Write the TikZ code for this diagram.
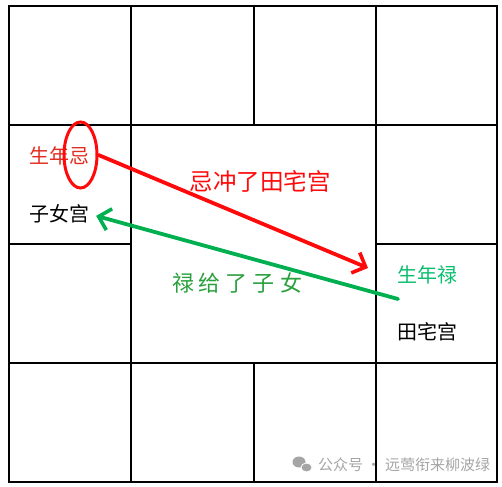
\documentclass[tikz,border=0pt]{standalone}
\usepackage{fontspec}
\newfontfamily\cjk{Noto Sans CJK SC}
\usetikzlibrary{arrows.meta,shapes.geometric}
\definecolor{jired}{RGB}{255,10,10}
\definecolor{jitext}{RGB}{225,45,30}
\definecolor{lugreen}{RGB}{0,176,80}
\definecolor{lutext}{RGB}{40,160,60}
\definecolor{lutexttwo}{RGB}{10,190,110}
\definecolor{wmgray}{RGB}{165,165,165}
\tikzset{
  gridline/.style={line width=1.3pt,black},
  lbl/.style={font=\cjk\fontsize{20}{20}\selectfont, inner sep=0pt, anchor=west},
  bigl/.style={font=\cjk\fontsize{23.5}{24}\selectfont, inner sep=0pt},
  arr/.style={line width=3.8pt, line cap=round, -{Straight Barb[length=11pt,width=22pt,line width=3.6pt]}},
}
\begin{document}
\begin{tikzpicture}[x=1pt,y=-1pt]
\useasboundingbox (0,0) rectangle (502,486);
% grid
\draw[gridline] (9,6) rectangle (497,482);
\draw[gridline] (9,125) -- (497,125);
\draw[gridline] (9,363) -- (497,363);
\draw[gridline] (131,6) -- (131,482);
\draw[gridline] (376,6) -- (376,482);
\draw[gridline] (254,6) -- (254,125);
\draw[gridline] (254,363) -- (254,482);
\draw[gridline] (9,244) -- (131,244);
\draw[gridline] (376,244) -- (497,244);
% texts
\node[lbl, text=jitext] (sn) at (29,156) {生年忌};
\node[lbl] (zn) at (29,214) {子女宫};
\node[lbl, text=lutexttwo] (sl) at (397,275) {生年禄};
\node[lbl] (tz) at (397,332) {田宅宫};
\node[bigl, text=jired] (jc) at (260,181) {忌冲了田宅宫};
\node[bigl, text=lutext, font=\cjk\fontsize{22}{22}\selectfont] (lg) at (237,283) {禄\hspace{5pt}给\hspace{5pt}了\hspace{5pt}子\hspace{5pt}女};
% ellipse around 忌
\node[draw=jired, line width=3pt, ellipse, minimum width=33pt, minimum height=66pt, inner sep=0pt] (je) at (80.5,155) {};
% arrows
\coordinate (redend) at (368,268);
\coordinate (greenstart) at (398,299);
\draw[arr, draw=jired] (je.east) -- (redend);
\draw[arr, draw=lugreen, shorten >=7pt] (greenstart) -- (zn.east);
% watermark
\fill[wmgray] (299,462) ellipse (6.5pt and 5.5pt);
\fill[wmgray, draw=white, line width=0.8pt] (306.5,467.5) ellipse (5.5pt and 4.5pt);
\node[font=\cjk\fontsize{15}{15}\selectfont, text=wmgray, inner sep=0pt, anchor=west] (wm) at (318,465) {公众号\hspace{3pt}·\hspace{4pt}远莺衔来柳波绿};
\end{tikzpicture}
\end{document}
